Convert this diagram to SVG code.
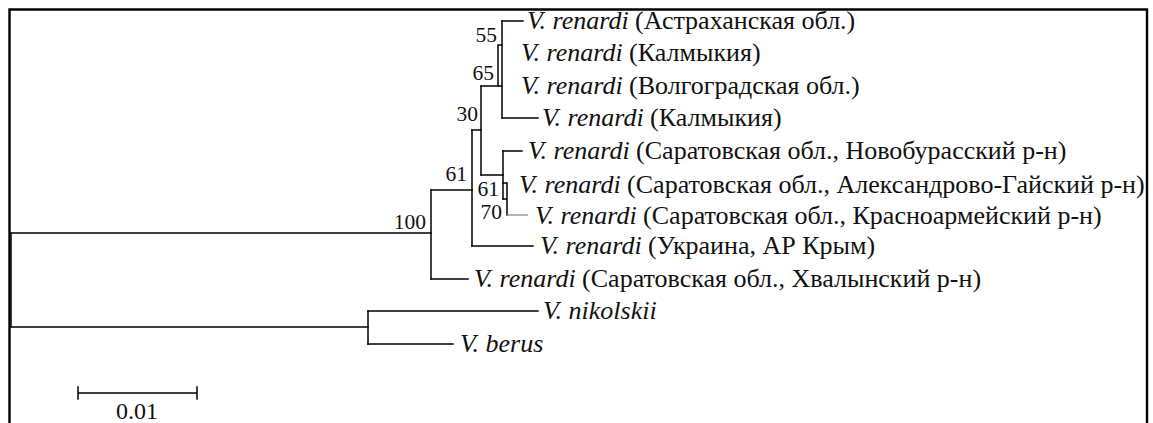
<svg xmlns="http://www.w3.org/2000/svg" width="1153" height="423" viewBox="0 0 1153 423">
<style>
.ln{stroke:#000;stroke-width:1.5;fill:none;stroke-linecap:square}
.gr{stroke:#8a8a8a;stroke-width:1.3;fill:none}
.fr{stroke:#000;stroke-width:2.4;fill:none}
text{font-family:'Liberation Serif','Tinos','Times New Roman','DejaVu Serif',serif;fill:#111}
.lb{font-size:26px}
.bs{font-size:21.5px}
.sc{font-size:24px}
.sp{font-style:italic}
</style>
<rect width="1153" height="423" fill="#fff"/>
<path class="fr" d="M9.5,430 V9.5 H1147 V430"/>
<g id="connectors">
<path class="ln" d="M11,233 V327"/>
<path class="ln" d="M11,233 H431"/>
<path class="ln" d="M431,190 V279"/>
<path class="ln" d="M431,279 H468"/>
<path class="ln" d="M11,327 H368"/>
<path class="ln" d="M368,311 V344"/>
<path class="ln" d="M368,311 H538"/>
<path class="ln" d="M368,344 H453"/>
<path class="ln" d="M431,190 H472"/>
<path class="ln" d="M472,130 V246"/>
<path class="ln" d="M472,246 H533"/>
<path class="ln" d="M472,130 H481"/>
<path class="ln" d="M481,86 V175"/>
<path class="ln" d="M481,86 H502"/>
<path class="ln" d="M502,21 V118"/>
<path class="ln" d="M502,21 H523"/>
<path class="ln" d="M502,118 H538"/>
<path class="ln" d="M498,45 V86 M498,45 H502"/>
<path class="ln" d="M481,175 H503"/>
<path class="ln" d="M503,151 V199"/>
<path class="ln" d="M503,151 H522"/>
<path class="ln" d="M503,183 H507 M503,199 H507 M507,183 V215"/>
<path class="gr" d="M507,215 H528"/>
</g>
<g id="bootstrap">
<text class="bs" x="497" y="42" text-anchor="end">55</text>
<text class="bs" x="494" y="80" text-anchor="end">65</text>
<text class="bs" x="478" y="121" text-anchor="end">30</text>
<text class="bs" x="467" y="181" text-anchor="end">61</text>
<text class="bs" x="499" y="196" text-anchor="end">61</text>
<text class="bs" x="502" y="219" text-anchor="end">70</text>
<text class="bs" x="426" y="229" text-anchor="end">100</text>
</g>
<g id="n1"><text class="lb" x="527" y="29"><tspan class="sp">V. renardi</tspan> (Астраханская обл.)</text></g>
<g id="n2"><text class="lb" x="521" y="61"><tspan class="sp">V. renardi</tspan> (Калмыкия)</text></g>
<g id="n3"><text class="lb" x="521" y="94"><tspan class="sp">V. renardi</tspan> (Волгоградская обл.)</text></g>
<g id="n4"><text class="lb" x="542" y="126"><tspan class="sp">V. renardi</tspan> (Калмыкия)</text></g>
<g id="n5"><text class="lb" x="528" y="159"><tspan class="sp">V. renardi</tspan> (Саратовская обл., Новобурасский р-н)</text></g>
<g id="n6"><text class="lb" x="519" y="193"><tspan class="sp">V. renardi</tspan> (Саратовская обл., Александрово-Гайский р-н)</text></g>
<g id="n7"><text class="lb" x="535" y="224"><tspan class="sp">V. renardi</tspan> (Саратовская обл., Красноармейский р-н)</text></g>
<g id="n8"><text class="lb" x="540" y="254"><tspan class="sp">V. renardi</tspan> (Украина, АР Крым)</text></g>
<g id="n9"><text class="lb" x="474" y="287"><tspan class="sp">V. renardi</tspan> (Саратовская обл., Хвалынский р-н)</text></g>
<g id="n10"><text class="lb sp" x="543" y="319">V. nikolskii</text></g>
<g id="n11"><text class="lb sp" x="460" y="352">V. berus</text></g>
<g id="scale">
<path class="ln" d="M78,393 H197 M78,387 V399 M197,387 V399"/>
<text class="sc" x="137" y="419" text-anchor="middle">0.01</text>
</g>
</svg>
